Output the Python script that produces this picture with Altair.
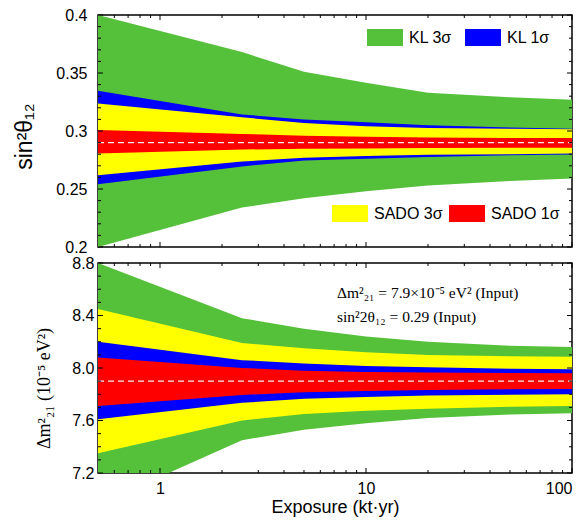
import altair as alt
import pandas as pd
import numpy as np

# ---------------- data ----------------
exposure = [0.5, 2.5, 5, 10, 20, 50, 100]

# top panel: sin^2 theta_12
s_kl3_hi = [0.400, 0.368, 0.351, 0.3415, 0.333, 0.329, 0.327]
s_kl3_lo = [0.200, 0.234, 0.242, 0.248, 0.253, 0.257, 0.259]
s_kl1_hi = [0.3347, 0.3143, 0.310, 0.3075, 0.305, 0.303, 0.302]
s_kl1_lo = [0.2542, 0.2695, 0.2745, 0.276, 0.2775, 0.279, 0.2797]
s_sado3_hi = [0.3237, 0.3118, 0.307, 0.304, 0.3025, 0.302, 0.3015]
s_sado3_lo = [0.2619, 0.2737, 0.277, 0.2785, 0.2795, 0.280, 0.2805]
s_sado1_hi = [0.3008, 0.2975, 0.296, 0.295, 0.2945, 0.294, 0.294]
s_sado1_lo = [0.2805, 0.284, 0.2848, 0.285, 0.2853, 0.2855, 0.2856]
s12_input = 0.29

# bottom panel: dm^2_21 (1e-5 eV^2)
m_kl3_hi = [8.80, 8.38, 8.30, 8.24, 8.20, 8.17, 8.16]
m_kl3_lo = [6.96, 7.45, 7.53, 7.58, 7.62, 7.645, 7.655]
m_sado3_hi = [8.45, 8.19, 8.15, 8.12, 8.10, 8.09, 8.085]
m_sado3_lo = [7.35, 7.60, 7.65, 7.675, 7.69, 7.705, 7.71]
m_kl1_hi = [8.20, 8.06, 8.035, 8.015, 8.005, 7.995, 7.99]
m_kl1_lo = [7.61, 7.735, 7.765, 7.78, 7.79, 7.797, 7.80]
m_sado1_hi = [8.08, 8.00, 7.98, 7.97, 7.965, 7.962, 7.96]
m_sado1_lo = [7.71, 7.795, 7.815, 7.825, 7.832, 7.838, 7.84]
dm_input = 7.9

legend_labels = ["KL 3σ", "KL 1σ", "SADO 3σ", "SADO 1σ"]
ann_lines = ["Δm²₂₁ = 7.9×10⁻⁵ eV² (Input)", "sin²2θ₁₂ = 0.29 (Input)"]

# tick positions
top_major = [0.2, 0.25, 0.3, 0.35, 0.4]
top_minor = [round(v, 2) for v in np.arange(0.21, 0.40, 0.01) if round(v, 2) not in top_major]
bot_major = [7.2, 7.6, 8.0, 8.4, 8.8]
bot_minor = [round(v, 1) for v in np.arange(7.3, 8.8, 0.1) if round(v, 1) not in bot_major]
x_major = [1, 10, 100]
x_minor = [0.6, 0.7, 0.8, 0.9] + list(range(2, 10)) + list(range(20, 100, 10))

# ---------------- style ----------------
W = 474
H_TOP = 232
H_BOT = 210
GREEN = "#55c13a"
BLUE = "#0000ff"
YELLOW = "#ffff00"
RED = "#ff0000"
SANS = "Liberation Sans"
SERIF = "Liberation Serif"

xscale = alt.Scale(type="log", domain=[0.5, 100], nice=False)
ytop = alt.Scale(domain=[0.2, 0.4], nice=False, zero=False)
ybot = alt.Scale(domain=[7.2, 8.8], nice=False, zero=False)

top_xaxis = alt.Axis(labels=False, ticks=False, domain=False, grid=False, title=None)
top_yaxis = alt.Axis(
    values=top_major, format="~g", labelFontSize=16, labelFont=SANS, labelColor="black",
    labelPadding=11, ticks=False, tickSize=0, domain=False, grid=False,
    title="sin²θ₁₂", titleFont=SANS, titleFontSize=23, titleFontWeight="normal", titleColor="black",
    titleX=-74, titleY=121, titleAngle=270, titleAlign="center", titleBaseline="middle",
)
bot_xaxis = alt.Axis(
    values=x_major, format="~g", labelFontSize=16, labelFont=SANS, labelColor="black",
    labelPadding=7, ticks=False, tickSize=0, domain=False, grid=False,
    title="Exposure (kt·yr)", titleFont=SANS, titleFontSize=18, titleFontWeight="normal", titleColor="black",
    titleX=W / 2, titleY=34, titleAlign="center", titleBaseline="middle",
)
bot_yaxis = alt.Axis(
    values=bot_major, format=".1f", labelFontSize=16, labelFont=SANS, labelColor="black",
    labelPadding=4, ticks=False, tickSize=0, domain=False, grid=False,
    title="Δm²₂₁ (10⁻⁵ eV²)", titleFont=SERIF, titleFontSize=18, titleFontWeight="normal", titleColor="black",
    titleX=-54, titleY=125, titleAngle=270, titleAlign="center", titleBaseline="middle",
)


def band(lo, hi, color, yscale, xaxis, yaxis):
    df = pd.DataFrame({"x": exposure, "lo": lo, "hi": hi})
    return alt.Chart(df).mark_area(color=color, clip=True, opacity=1).encode(
        x=alt.X("x:Q", scale=xscale, axis=xaxis),
        y=alt.Y("hi:Q", scale=yscale, axis=yaxis),
        y2="lo:Q",
    )


def y_ticks(vals, yscale, yaxis, L):
    df = pd.DataFrame({"v": vals})
    base = alt.Chart(df).mark_rule(color="black", strokeWidth=1)
    return [
        base.encode(y=alt.Y("v:Q", scale=yscale, axis=yaxis), x=alt.value(0), x2=alt.value(L)),
        base.encode(y=alt.Y("v:Q", scale=yscale, axis=yaxis), x=alt.value(W - L), x2=alt.value(W)),
    ]


def x_ticks(vals, xaxis, L, H):
    df = pd.DataFrame({"v": vals})
    base = alt.Chart(df).mark_rule(color="black", strokeWidth=1)
    return [
        base.encode(x=alt.X("v:Q", scale=xscale, axis=xaxis), y=alt.value(H - L), y2=alt.value(H)),
        base.encode(x=alt.X("v:Q", scale=xscale, axis=xaxis), y=alt.value(0), y2=alt.value(L)),
    ]


def center_line(val, yscale, yaxis):
    df = pd.DataFrame({"y": [val]})
    return alt.Chart(df).mark_rule(color="#ffecec", strokeDash=[6, 4], strokeWidth=1.2).encode(
        y=alt.Y("y:Q", scale=yscale, axis=yaxis), x=alt.value(0), x2=alt.value(W)
    )


def legend_item(label, color, x0, y0):
    df = pd.DataFrame({"t": [label]})
    box = alt.Chart(df).mark_rect(color=color).encode(
        x=alt.value(x0), x2=alt.value(x0 + 36), y=alt.value(y0), y2=alt.value(y0 + 17)
    )
    txt = alt.Chart(df).mark_text(font=SANS, fontSize=16, align="left", baseline="middle", color="black").encode(
        text="t:N", x=alt.value(x0 + 42), y=alt.value(y0 + 9)
    )
    return [box, txt]


# ---------------- top panel ----------------
top_layers = [
    band(s_kl3_lo, s_kl3_hi, GREEN, ytop, top_xaxis, top_yaxis),
    band(s_kl1_lo, s_kl1_hi, BLUE, ytop, top_xaxis, top_yaxis),
    band(s_sado3_lo, s_sado3_hi, YELLOW, ytop, top_xaxis, top_yaxis),
    band(s_sado1_lo, s_sado1_hi, RED, ytop, top_xaxis, top_yaxis),
    center_line(s12_input, ytop, top_yaxis),
]
top_layers += y_ticks(top_major, ytop, top_yaxis, 5) + y_ticks(top_minor, ytop, top_yaxis, 3)
top_layers += x_ticks(x_major, top_xaxis, 5, H_TOP) + x_ticks(x_minor, top_xaxis, 3, H_TOP)
top_layers += legend_item(legend_labels[0], GREEN, 269, 14)
top_layers += legend_item(legend_labels[1], BLUE, 367, 14)
top_layers += legend_item(legend_labels[2], YELLOW, 234, 190)
top_layers += legend_item(legend_labels[3], RED, 351, 190)
top = alt.layer(*top_layers).properties(width=W, height=H_TOP)

# ---------------- bottom panel ----------------
bot_layers = [
    band(m_kl3_lo, m_kl3_hi, GREEN, ybot, bot_xaxis, bot_yaxis),
    band(m_sado3_lo, m_sado3_hi, YELLOW, ybot, bot_xaxis, bot_yaxis),
    band(m_kl1_lo, m_kl1_hi, BLUE, ybot, bot_xaxis, bot_yaxis),
    band(m_sado1_lo, m_sado1_hi, RED, ybot, bot_xaxis, bot_yaxis),
    center_line(dm_input, ybot, bot_yaxis),
]
bot_layers += y_ticks(bot_major, ybot, bot_yaxis, 5) + y_ticks(bot_minor, ybot, bot_yaxis, 3)
bot_layers += x_ticks(x_major, bot_xaxis, 5, H_BOT) + x_ticks(x_minor, bot_xaxis, 3, H_BOT)
for i, line in enumerate(ann_lines):
    bot_layers.append(
        alt.Chart(pd.DataFrame({"t": [line]})).mark_text(
            font=SERIF, fontSize=15.5, align="left", baseline="middle", color="black"
        ).encode(text="t:N", x=alt.value(239), y=alt.value(30 + 24 * i))
    )
bottom = alt.layer(*bot_layers).properties(width=W, height=H_BOT)

chart = (
    alt.vconcat(top, bottom, spacing=16, bounds="flush")
    .properties(padding={"left": 4, "top": -2, "right": 0, "bottom": 0})
    .configure_view(stroke="black", strokeWidth=1.5)
)

chart.save("out.html", embed_options={"renderer": "svg", "actions": False})
